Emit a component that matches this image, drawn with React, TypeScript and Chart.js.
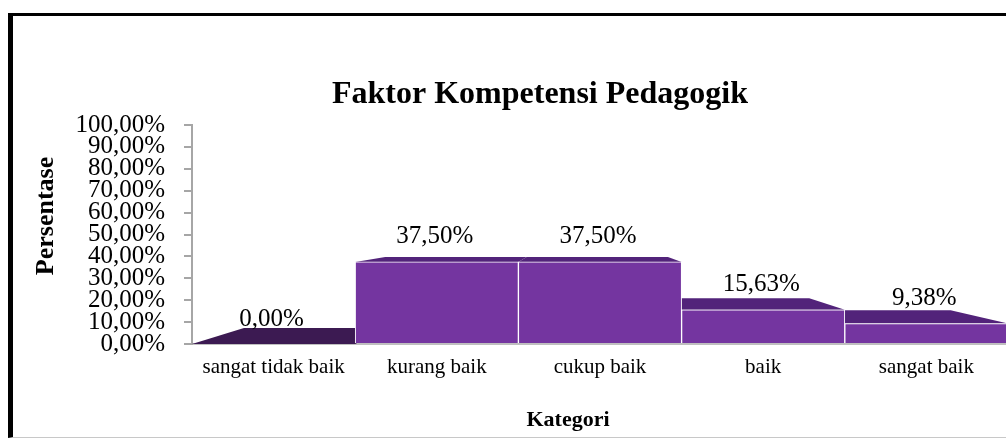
import React, { useEffect, useRef } from 'react';
import { Chart, registerables } from 'chart.js';

Chart.register(...registerables);

const categories = ['sangat tidak baik', 'kurang baik', 'cukup baik', 'baik', 'sangat baik'];
const percentages = [0, 37.5, 37.5, 15.63, 9.38];
const yMin = 0;
const yMax = 100;
const yStep = 10;
const chartTitle = 'Faktor Kompetensi Pedagogik';
const yAxisTitle = 'Persentase';
const xAxisTitle = 'Kategori';

const SERIF = "'Liberation Serif', 'Times New Roman', serif";
const fmt = (v: number) => Number(v).toFixed(2).replace('.', ',') + '%';

const capPlugin = {
  id: 'cap3d',
  beforeDatasetsDraw(chart: any) {
    const { ctx, chartArea: a } = chart;
    const meta = chart.getDatasetMeta(0);
    const vx = a.left + 0.475 * (a.right - a.left);
    const vy = a.top + 0.455 * (a.bottom - a.top);
    const t = 0.134;
    ctx.save();
    meta.data.forEach((bar: any) => {
      const { x, y, width, base } = bar.getProps(['x', 'y', 'width', 'base'], true);
      const L = x - width / 2;
      const R = x + width / 2;
      const by = y + t * (vy - y);
      ctx.beginPath();
      ctx.moveTo(L, y);
      ctx.lineTo(R, y);
      ctx.lineTo(R + t * (vx - R), by);
      ctx.lineTo(L + t * (vx - L), by);
      ctx.closePath();
      ctx.fillStyle = base - y < 1 ? '#3c1a52' : '#52237a';
      ctx.fill();
    });
    ctx.restore();
  },
  afterDatasetsDraw(chart: any) {
    const { ctx } = chart;
    const meta = chart.getDatasetMeta(0);
    const values = chart.data.datasets[0].data;
    ctx.save();
    ctx.font = `25px ${SERIF}`;
    ctx.fillStyle = '#000';
    ctx.textAlign = 'center';
    ctx.textBaseline = 'alphabetic';
    meta.data.forEach((bar: any, i: number) => {
      const { x, y } = bar.getProps(['x', 'y'], true);
      ctx.fillText(fmt(values[i]), x - 2, y - 18.5);
    });
    ctx.restore();
  },
  afterDraw(chart: any) {
    const { ctx } = chart;
    ctx.save();
    ctx.fillStyle = '#000';
    ctx.textAlign = 'center';
    ctx.textBaseline = 'alphabetic';
    ctx.font = `bold 32px ${SERIF}`;
    ctx.fillText(chartTitle, 527, 87);
    ctx.font = `bold 22px ${SERIF}`;
    ctx.fillText(xAxisTitle, 555, 410);
    ctx.translate(40, 200);
    ctx.rotate(-Math.PI / 2);
    ctx.font = `bold 26px ${SERIF}`;
    ctx.fillText(yAxisTitle, 0, 0);
    ctx.restore();
  },
};

function App() {
  const ref = useRef<HTMLCanvasElement | null>(null);

  useEffect(() => {
    if (!ref.current) return;
    const chart = new Chart(ref.current, {
      type: 'bar',
      data: {
        labels: categories,
        datasets: [
          {
            data: percentages,
            backgroundColor: '#7435a0',
            borderColor: '#ffffff',
            borderWidth: 1,
            categoryPercentage: 1,
            barPercentage: 1,
          },
        ],
      },
      options: {
        responsive: false,
        animation: false,
        devicePixelRatio: 1,
        layout: { padding: { left: 0, top: 109, right: 5, bottom: 0 } },
        plugins: {
          legend: { display: false },
          title: { display: false },
          tooltip: { enabled: false },
        },
        scales: {
          x: {
            ticks: {
              font: { family: SERIF, size: 21 },
              color: '#000',
              padding: 11,
              maxRotation: 0,
              autoSkip: false,
            },
            grid: { display: false, drawTicks: false },
            border: { display: true, color: '#bfbfbf', width: 2 },
            afterFit: (s: any) => {
              s.height = 93;
            },
          },
          y: {
            min: yMin,
            max: yMax,
            ticks: {
              stepSize: yStep,
              autoSkip: false,
              callback: (v: any) => fmt(v),
              font: { family: SERIF, size: 25 },
              color: '#000',
              padding: 19,
            },
            grid: { drawOnChartArea: false, tickLength: 8, color: '#a6a6a6', lineWidth: 2 },
            border: { color: '#a6a6a6', width: 2 },
            afterFit: (s: any) => {
              s.width = 179;
            },
          },
        },
      },
      plugins: [capPlugin],
    } as any);
    return () => chart.destroy();
  }, []);

  return (
    <div style={{ position: 'relative', width: 1006, height: 439, overflow: 'hidden', background: '#fff' }}>
      <style>{`html,body{margin:0;padding:0;overflow:hidden;background:#fff}`}</style>
      <div
        style={{
          position: 'absolute',
          left: 8,
          top: 13,
          width: 993,
          height: 421,
          borderLeft: '5px solid #000',
          borderTop: '3px solid #000',
          borderBottom: '1px solid #c8c8c8',
          overflow: 'hidden',
        }}
      >
        <canvas ref={ref} width={1000} height={421} style={{ display: 'block', width: 1000, height: 421 }} />
      </div>
    </div>
  );
}

export default App;
